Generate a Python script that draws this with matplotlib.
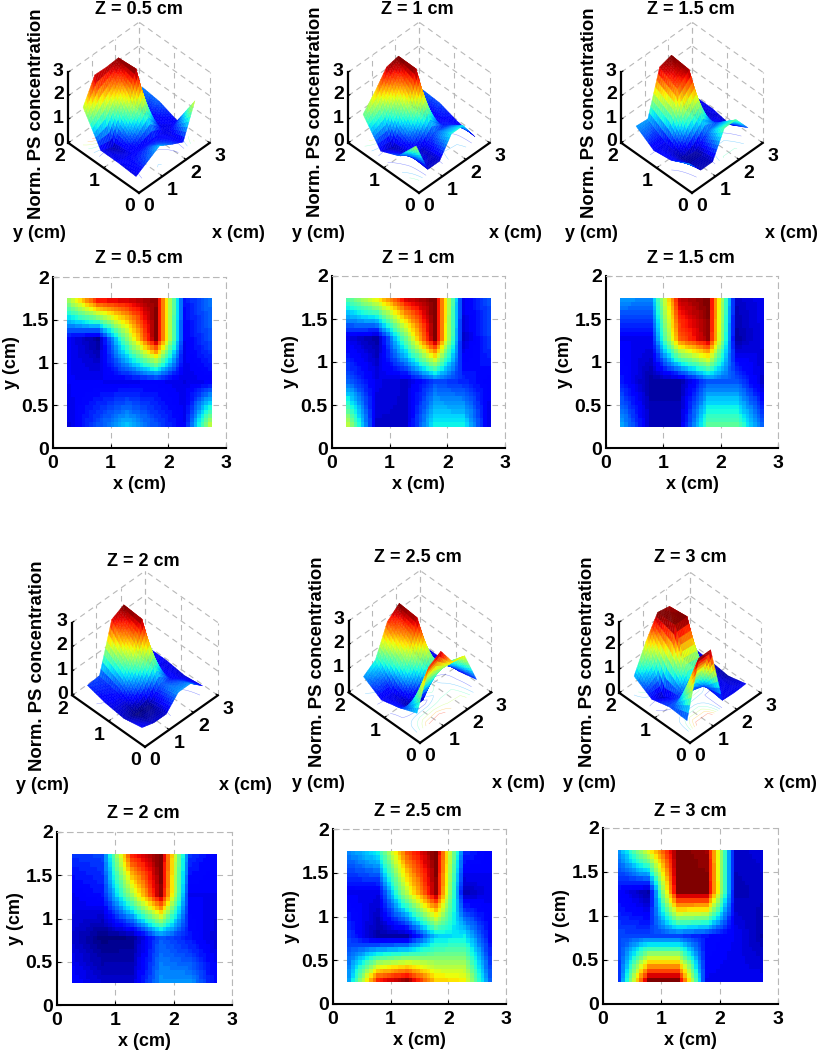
import numpy as np
import matplotlib
matplotlib.use("Agg")
import matplotlib.pyplot as plt
from mpl_toolkits.mplot3d import proj3d

plt.rcParams['font.family'] = ['Liberation Sans', 'DejaVu Sans']
plt.rcParams['font.weight'] = 'bold'
plt.rcParams['axes.labelweight'] = 'bold'
plt.rcParams['font.size'] = 13

# Data: measured nodes, rows are y, columns are x
x_nodes = [0.25, 0.75, 1.25, 1.75, 2.25, 2.75]
y_nodes = [0.25, 0.75, 1.25, 1.75]
titles = ['Z = 0.5 cm', 'Z = 1 cm', 'Z = 1.5 cm', 'Z = 2 cm', 'Z = 2.5 cm', 'Z = 3 cm']

z_05 = [[0.25, 0.55, 0.85, 0.55, 0.30, 1.70],
        [0.30, 0.30, 0.28, 0.32, 0.25, 0.32],
        [0.30, 0.08, 1.35, 2.70, 0.30, 0.60],
        [1.60, 2.62, 2.60, 2.64, 0.40, 0.70]]
z_10 = [[1.55, 0.20, 0.20, 1.00, 1.00, 0.17],
        [0.60, 0.27, 0.20, 0.55, 0.45, 0.30],
        [0.27, 0.10, 1.30, 2.70, 0.20, 0.55],
        [1.30, 1.90, 2.60, 2.71, 0.30, 0.60]]
z_15 = [[0.80, 0.17, 0.17, 1.25, 1.25, 0.55],
        [0.40, 0.10, 0.10, 0.60, 0.60, 0.15],
        [0.30, 0.30, 2.20, 2.67, 0.10, 0.30],
        [0.80, 0.75, 2.60, 2.75, 0.20, 0.30]]
z_20 = [[0.35, 0.20, 0.20, 0.75, 0.75, 0.30],
        [0.20, 0.02, 0.05, 0.60, 0.40, 0.20],
        [0.30, 0.40, 1.50, 2.70, 0.30, 0.30],
        [0.50, 0.55, 2.50, 2.76, 0.50, 0.30]]
z_25 = [[0.80, 2.40, 2.70, 1.90, 1.80, 0.45],
        [0.50, 0.10, 0.12, 0.90, 1.00, 0.27],
        [0.30, 0.27, 1.60, 2.70, 0.15, 0.30],
        [0.75, 1.10, 2.35, 2.77, 0.50, 0.30]]
z_30 = [[0.50, 2.80, 2.80, 0.30, 0.27, 0.30],
        [0.55, 0.55, 0.55, 0.40, 0.30, 0.10],
        [0.35, 0.10, 2.80, 2.80, 0.15, 0.20],
        [0.80, 1.90, 2.80, 2.70, 0.20, 0.25]]
all_z = [z_05, z_10, z_15, z_20, z_25, z_30]

x_ticks = [0, 1, 2, 3]
y_ticks_3d = [0, 1, 2]
z_ticks = [0, 1, 2, 3]
y_ticks_2d = [0, 0.5, 1, 1.5, 2]
y_ticklabels_2d = ['0', '0.5', '1', '1.5', '2']

FIG_W, FIG_H = 818, 1050
GRID = '#b8b8b8'
TICK_SIZE = 14

# layout in image pixels
origins = [(139, 200), (419, 200), (692, 200), (145, 754), (420, 750), (690, 750)]
edges = [100, 100, 100, 103, 101, 100]
boxes = [(53, 226, 277, 448), (332, 505, 276, 448), (606, 778, 276, 448),
         (57, 232, 832, 1005), (333, 506, 829, 1004), (603, 778, 828, 1004)]
title3d_pos = [(139, 10), (417, 10), (691, 10), (143, 562), (418, 557), (690, 557)]
title2d_pos = [(139, 258), (418, 258), (691, 258), (143, 813), (418, 811), (690, 811)]
zlabel_pos = [(37, 114), (315, 112), (589, 113), (38, 666), (317, 662), (587, 662)]
ylabel_pos = [(39, 234), (318, 234), (591, 233), (42, 785), (318, 783), (589, 784)]
xlabel_pos = [(238, 234), (515, 233), (791, 233), (245, 785), (518, 784), (790, 784)]

cmap = plt.get_cmap('jet', 64)


def bilinear(z, xf, yf):
    # bilinear fill between the nodes, for drawing only
    z = np.array(z)
    cols = np.array([np.interp(yf, y_nodes, z[:, j]) for j in range(z.shape[1])])
    return np.array([np.interp(xf, x_nodes, cols[:, i]) for i in range(len(yf))])


def txt(px, py, s, **kw):
    fig.text(px / FIG_W, 1 - py / FIG_H, s, ha='center', va='center', **kw)


fig = plt.figure(figsize=(FIG_W / 100, FIG_H / 100), dpi=100)

xf = np.linspace(0.25, 2.75, 41)
yf = np.linspace(0.25, 1.75, 31)
XF, YF = np.meshgrid(xf, yf)

for i, z in enumerate(all_z):
    zf = bilinear(z, xf, yf)
    top = np.max(z)

    # surface panel
    ox, oy = origins[i]
    W = 240
    cy = oy - 0.86 * edges[i]
    ax = fig.add_axes([(ox - 0.5135 * W) / FIG_W, 1 - (cy + 0.4865 * W) / FIG_H, W / FIG_W, W / FIG_H],
                      projection='3d', computed_zorder=False)
    ax.set_proj_type('ortho')
    ax.view_init(elev=45, azim=-135)
    ax.set_box_aspect((1, 1, 1), zoom=edges[i] / (0.5947 * W))
    ax.set_xlim(0, 3, view_margin=0)
    ax.set_ylim(0, 2, view_margin=0)
    ax.set_zlim(0, 3, view_margin=0)
    ax.set_axis_off()
    ax.patch.set_alpha(0)

    dash = dict(color=GRID, lw=0.8, ls=(0, (5, 4)), zorder=1)
    for t in x_ticks[1:]:
        ax.plot([t, t], [0, 2], [0, 0], **dash)
        ax.plot([t, t], [2, 2], [0, 3], **dash)
    for t in y_ticks_3d[1:]:
        ax.plot([0, 3], [t, t], [0, 0], **dash)
        ax.plot([3, 3], [t, t], [0, 3], **dash)
    ax.plot([3, 3], [0, 0], [0, 3], **dash)
    for t in z_ticks[1:]:
        ax.plot([0, 3], [2, 2], [t, t], **dash)
        ax.plot([3, 3], [0, 2], [t, t], **dash)

    ax.contour(XF, YF, zf, levels=7, zdir='z', offset=0, cmap=cmap, vmin=0, vmax=top,
               linewidths=0.3, alpha=0.5, zorder=2)
    surf = ax.plot_surface(XF, YF, zf, rstride=1, cstride=1, cmap=cmap, vmin=0, vmax=top,
                           linewidth=0.25, shade=False, zorder=3)
    surf.set_edgecolor('face')

    line = dict(color='k', lw=1.6, zorder=5)
    ax.plot([0, 3], [0, 0], [0, 0], **line)
    ax.plot([0, 0], [0, 2], [0, 0], **line)
    ax.plot([0, 0], [2, 2], [0, 3], **line)

    M = ax.get_proj()
    def label(s, x, y, zz, dx, dy):
        X, Y, _ = proj3d.proj_transform(x, y, zz, M)
        ax.annotate(s, (X, Y), xytext=(dx, dy), textcoords='offset pixels', fontsize=TICK_SIZE,
                    ha='center', va='center', annotation_clip=False)
    for t in x_ticks:
        label(str(t), t, 0, 0, 10, -14)
        ax.plot([t, t], [0, 0.05], [0, 0], color='k', lw=0.8, zorder=5)
    for t in y_ticks_3d:
        label(str(t), 0, t, 0, -9, -14)
        ax.plot([0, 0.07], [t, t], [0, 0], color='k', lw=0.8, zorder=5)
    for t in z_ticks:
        label(str(t), 0, 2, t, -10, 1)
        ax.plot([0, 0.07], [2, 2], [t, t], color='k', lw=0.8, zorder=5)

    txt(*title3d_pos[i], titles[i])
    txt(*zlabel_pos[i], 'Norm. PS concentration', rotation=90, fontsize=13.3)
    txt(*ylabel_pos[i], 'y (cm)')
    txt(*xlabel_pos[i], 'x (cm)')

    # map panel
    l, r, t_px, b = boxes[i]
    ax2 = fig.add_axes([l / FIG_W, 1 - b / FIG_H, (r - l) / FIG_W, (b - t_px) / FIG_H])
    ax2.pcolormesh(XF, YF, zf[:-1, :-1], cmap=cmap, vmin=0, vmax=top, shading='flat', zorder=2)
    ax2.set_xlim(0, 3)
    ax2.set_ylim(0, 2)
    ax2.set_xticks(x_ticks)
    ax2.set_yticks(y_ticks_2d)
    ax2.set_yticklabels(y_ticklabels_2d)
    ax2.tick_params(direction='in', length=3, width=0.8, labelsize=TICK_SIZE)
    ax2.tick_params(axis='x', pad=5)
    ax2.tick_params(axis='y', pad=3)
    ax2.grid(True, color=GRID, lw=0.8, ls=(0, (5, 4)))
    ax2.set_axisbelow(True)
    for s in ['top', 'right']:
        ax2.spines[s].set_color(GRID)
        ax2.spines[s].set_linewidth(0.8)
        ax2.spines[s].set_linestyle((0, (5, 4)))
    for s in ['left', 'bottom']:
        ax2.spines[s].set_linewidth(1.5)
    ax2.set_xlabel('x (cm)', labelpad=3)
    ax2.set_ylabel('y (cm)', labelpad=1)
    txt(*title2d_pos[i], titles[i])

fig.savefig('out.png', dpi=100)
